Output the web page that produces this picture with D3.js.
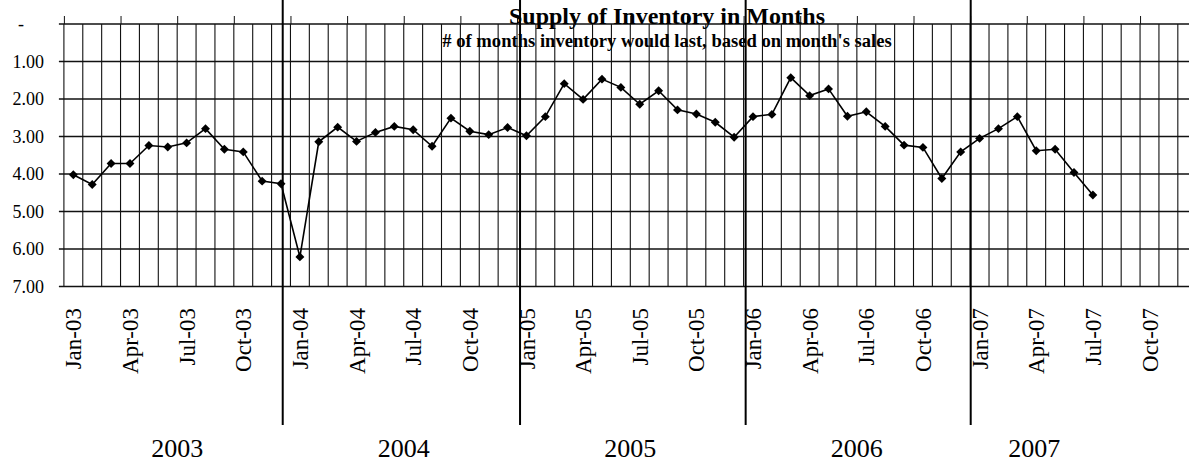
<!DOCTYPE html>
<html>
<head>
<meta charset="utf-8">
<script src="https://cdn.jsdelivr.net/npm/d3@7"></script>
<style>
  body { margin: 0; background: #fff; }
  svg { display: block; }
</style>
</head>
<body>
<div id="chart"></div>
<script>
// months of supply, one array per year
const supply2003 = [4.02, 4.28, 3.72, 3.72, 3.24, 3.28, 3.17, 2.79, 3.34, 3.41, 4.19, 4.26];
const supply2004 = [6.21, 3.14, 2.75, 3.13, 2.89, 2.73, 2.82, 3.26, 2.51, 2.86, 2.95, 2.76];
const supply2005 = [2.98, 2.47, 1.59, 2.01, 1.47, 1.69, 2.14, 1.78, 2.29, 2.40, 2.62, 3.02];
const supply2006 = [2.47, 2.41, 1.43, 1.91, 1.73, 2.46, 2.34, 2.73, 3.23, 3.29, 4.12, 3.41];
const supply2007 = [3.05, 2.79, 2.47, 3.38, 3.34, 3.96, 4.56];

const tickLabels = ["Jan-03", "Apr-03", "Jul-03", "Oct-03", "Jan-04", "Apr-04", "Jul-04", "Oct-04",
  "Jan-05", "Apr-05", "Jul-05", "Oct-05", "Jan-06", "Apr-06", "Jul-06", "Oct-06",
  "Jan-07", "Apr-07", "Jul-07", "Oct-07"];
const yTicks = [0, 1, 2, 3, 4, 5, 6, 7];
const years = ["2003", "2004", "2005", "2006", "2007"];
// where the year labels and the hand-drawn year dividers sit, in months from Jan-03
const yearLabelAt = [6, 18, 30, 42, 51.4];
const yearBreaks = [11.59, 24.16, 36.11, 48.03];

const months = d3.utcMonth.range(new Date(Date.UTC(2003, 0, 1)), new Date(Date.UTC(2008, 0, 1)))
  .map(d3.utcFormat("%b-%y"));
const values = [...supply2003, ...supply2004, ...supply2005, ...supply2006, ...supply2007];
const series = values.map((v, i) => ({ month: months[i], value: v }));

const W = 1189, H = 464;
const plotLeft = 63.9, step = 18.88, plotTop = 24, plotBottom = 286.5;
const serif = '"Liberation Serif", "Times New Roman", serif';

const svg = d3.select("#chart").append("svg")
  .attr("width", W).attr("height", H)
  .style("background", "#fff");

const x = d3.scaleBand().domain(months).range([plotLeft, plotLeft + months.length * step]).padding(0);
const xm = d3.scaleLinear().domain([0, months.length]).range(x.range());
const y = d3.scaleLinear().domain([0, 7]).range([plotTop, plotBottom]);

// horizontal grid + left ticks
svg.append("g")
  .selectAll("line")
  .data(yTicks)
  .join("line")
  .attr("x1", plotLeft - 5).attr("x2", xm(months.length))
  .attr("y1", d => y(d)).attr("y2", d => y(d))
  .attr("stroke", "#111")
  .attr("stroke-width", 1.3);

// vertical grid at month boundaries
svg.append("g")
  .selectAll("line")
  .data(d3.range(0, months.length + 1))
  .join("line")
  .attr("x1", d => xm(d)).attr("x2", d => xm(d))
  .attr("y1", plotTop).attr("y2", plotBottom)
  .attr("stroke", "#111")
  .attr("stroke-width", 1.1);

// tick marks on the top (category axis crosses at 0)
svg.append("g")
  .attr("transform", `translate(0,${plotTop})`)
  .call(d3.axisTop(xm).tickValues(d3.range(0, months.length + 1, 3)).tickSize(8).tickFormat(""))
  .call(g => g.select(".domain").remove())
  .call(g => g.selectAll("line").attr("stroke", "#111"));

// y labels
svg.append("g")
  .selectAll("text")
  .data(yTicks)
  .join("text")
  .attr("x", 44)
  .attr("dx", d => d === 0 ? -20 : 0)
  .attr("y", d => y(d))
  .attr("dy", "0.35em")
  .attr("text-anchor", "end")
  .style("font-family", serif)
  .style("font-size", "18px")
  .text(d => d === 0 ? "-" : d.toFixed(2));

// x labels, rotated
svg.append("g")
  .selectAll("text")
  .data(tickLabels)
  .join("text")
  .attr("transform", d => `translate(${x(d) + x.bandwidth() / 2},308) rotate(-90)`)
  .attr("dy", "0.35em")
  .attr("text-anchor", "end")
  .style("font-family", serif)
  .style("font-size", "23px")
  .text(d => d);

// year dividers
svg.append("g")
  .selectAll("line")
  .data(yearBreaks)
  .join("line")
  .attr("x1", d => xm(d)).attr("x2", d => xm(d))
  .attr("y1", 0).attr("y2", 425)
  .attr("stroke", "#000")
  .attr("stroke-width", 2);

// year labels
svg.append("g")
  .selectAll("text")
  .data(years)
  .join("text")
  .attr("x", (d, i) => xm(yearLabelAt[i]))
  .attr("y", 457)
  .attr("text-anchor", "middle")
  .style("font-family", serif)
  .style("font-size", "26px")
  .text(d => d);

// series
const line = d3.line()
  .x(d => x(d.month) + x.bandwidth() / 2)
  .y(d => y(d.value));

svg.append("path")
  .datum(series)
  .attr("fill", "none")
  .attr("stroke", "#000")
  .attr("stroke-width", 1.6)
  .attr("d", line);

svg.append("g")
  .selectAll("path")
  .data(series)
  .join("path")
  .attr("transform", d => `translate(${x(d.month) + x.bandwidth() / 2},${y(d.value)}) rotate(45)`)
  .attr("d", d3.symbol(d3.symbolSquare, 40))
  .attr("fill", "#000");

// titles
svg.append("text")
  .attr("x", 667).attr("y", 24)
  .attr("text-anchor", "middle")
  .style("font-family", serif)
  .style("font-weight", "bold")
  .style("font-size", "24px")
  .text("Supply of Inventory in Months");

svg.append("text")
  .attr("x", 667).attr("y", 47)
  .attr("text-anchor", "middle")
  .style("font-family", serif)
  .style("font-weight", "bold")
  .style("font-size", "18.6px")
  .text("# of months inventory would last, based on month's sales");
</script>
</body>
</html>
